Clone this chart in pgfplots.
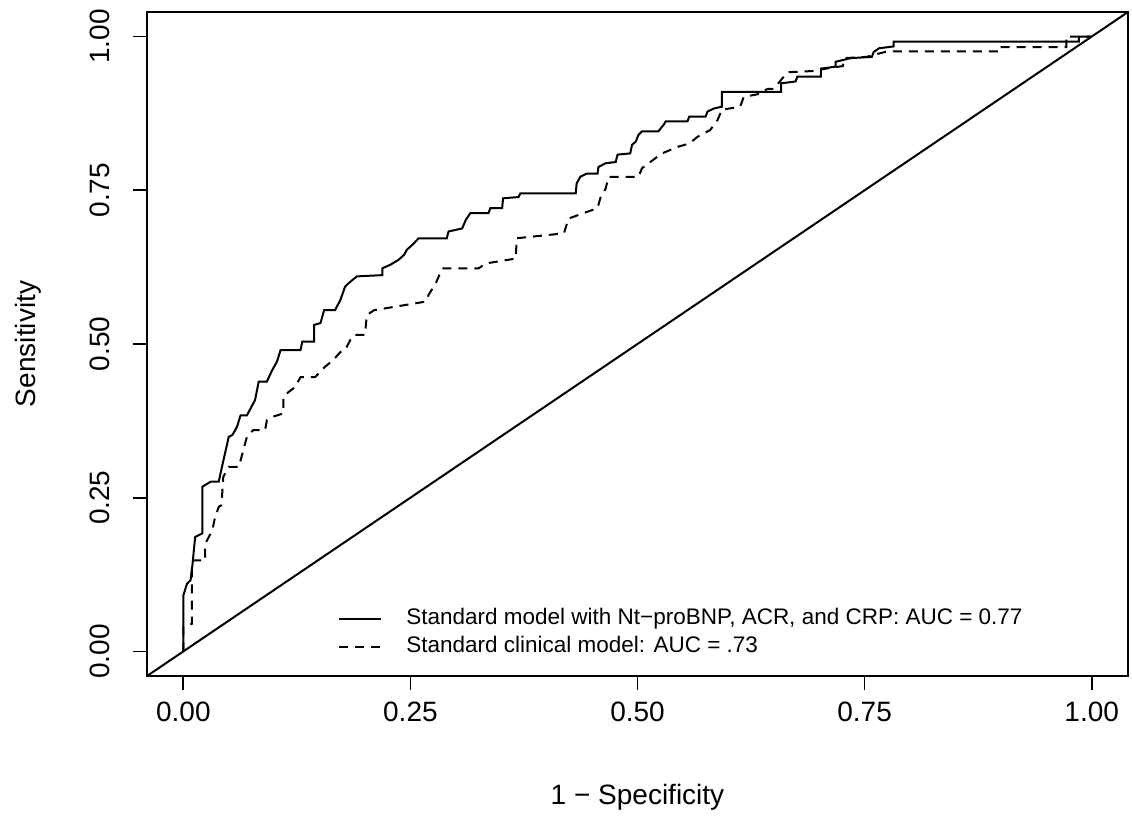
\documentclass[border=0pt]{standalone}
\usepackage{fontspec}
\setmainfont{Liberation Sans}
\usepackage{pgfplots}
\pgfplotsset{compat=1.18}

\begin{document}
\begin{tikzpicture}
\begin{axis}[
    scale only axis,
    width=490.5pt,
    height=332pt,
    xmin=-0.04, xmax=1.04,
    ymin=-0.04, ymax=1.04,
    xtick={0,0.25,0.5,0.75,1},
    ytick={0,0.25,0.5,0.75,1},
    xtick pos=bottom,
    ytick pos=left,
    tick align=outside,
    major tick length=7pt,
    axis line style={line width=0.9pt},
    every tick/.style={black, line width=0.9pt},
    /pgf/number format/.cd, fixed, fixed zerofill, precision=2, assume math mode=true,
    /pgfplots/.cd,
    tick label style={font=\fontsize{14}{16}\selectfont},
    xticklabel style={anchor=center, yshift=-11pt},
    yticklabel style={rotate=90, anchor=center, yshift=16.5pt},
    label style={font=\fontsize{14}{16}\selectfont},
    xlabel={1 − Specificity},
    ylabel={Sensitivity},
    xlabel style={at={(axis description cs:0.5,-0.1822)}, anchor=center},
    ylabel style={at={(axis description cs:-0.1213,0.5)}, anchor=center},
    legend cell align=left,
    legend image code/.code={\draw[#1] (0pt,0pt) -- (21pt,0pt);},
    legend style={draw=none, fill=none, inner sep=0pt,
        font=\fontsize{11.25}{13}\selectfont,
        at={(rel axis cs:0.1947,0.0272)}, anchor=south west,
        row sep=3.5pt, column sep=12pt,
        nodes={inner sep=0pt, text height=8pt, text depth=2.5pt}},
]
\addplot[black, line width=1pt] coordinates {
(0,0) (0,0.091) (0.004,0.110) (0.008,0.116) (0.010,0.140) (0.013,0.186)
(0.021,0.192) (0.021,0.268) (0.030,0.276) (0.039,0.276) (0.041,0.290)
(0.050,0.349) (0.054,0.352) (0.059,0.365) (0.063,0.384) (0.070,0.384)
(0.074,0.395) (0.079,0.409) (0.083,0.439) (0.092,0.439) (0.098,0.458)
(0.103,0.471) (0.107,0.490) (0.129,0.490) (0.131,0.504) (0.144,0.504)
(0.144,0.531) (0.151,0.534) (0.155,0.555) (0.167,0.555) (0.173,0.572)
(0.178,0.593) (0.182,0.599) (0.191,0.610) (0.219,0.612) (0.219,0.623)
(0.228,0.629) (0.237,0.637) (0.243,0.645) (0.246,0.653) (0.254,0.664)
(0.259,0.672) (0.290,0.672) (0.292,0.683) (0.307,0.688) (0.311,0.702)
(0.316,0.713) (0.336,0.713) (0.338,0.721) (0.351,0.721) (0.352,0.737)
(0.369,0.739) (0.371,0.745) (0.432,0.745) (0.433,0.761) (0.437,0.772)
(0.444,0.777) (0.456,0.777) (0.457,0.788) (0.465,0.794) (0.476,0.796)
(0.478,0.808) (0.492,0.810) (0.494,0.824) (0.498,0.829) (0.501,0.840)
(0.505,0.846) (0.523,0.846) (0.529,0.857) (0.531,0.862) (0.555,0.862)
(0.557,0.870) (0.575,0.870) (0.577,0.878) (0.584,0.883) (0.593,0.886)
(0.593,0.910) (0.658,0.910) (0.658,0.924) (0.674,0.927) (0.676,0.935)
(0.702,0.935) (0.702,0.948) (0.718,0.951) (0.718,0.959) (0.735,0.965)
(0.758,0.967) (0.760,0.975) (0.766,0.981) (0.782,0.984) (0.782,0.992)
(0.986,0.992) (0.986,1.000) (1,1)
};
\addlegendentry{Standard model with Nt−proBNP, ACR, and CRP: AUC = 0.77}
\addplot[black, line width=1pt, dash pattern=on 4.5pt off 3.5pt] coordinates {
(0,0) (0,0.040) (0.0095,0.045) (0.0095,0.142) (0.011,0.148) (0.024,0.148)
(0.024,0.175) (0.032,0.197) (0.035,0.219) (0.039,0.235) (0.042,0.238)
(0.044,0.284) (0.050,0.300) (0.061,0.300) (0.064,0.316) (0.070,0.349)
(0.077,0.360) (0.090,0.360) (0.092,0.376) (0.099,0.382) (0.110,0.387)
(0.110,0.414) (0.116,0.422) (0.123,0.430) (0.129,0.446) (0.145,0.446)
(0.156,0.463) (0.165,0.474) (0.173,0.487) (0.178,0.490) (0.184,0.507)
(0.188,0.515) (0.200,0.515) (0.202,0.547) (0.210,0.555) (0.267,0.569)
(0.270,0.580) (0.278,0.599) (0.285,0.623) (0.325,0.623) (0.333,0.631)
(0.366,0.639) (0.367,0.672) (0.419,0.680) (0.424,0.704) (0.456,0.721)
(0.459,0.737) (0.465,0.753) (0.468,0.772) (0.501,0.772) (0.505,0.786)
(0.514,0.796) (0.527,0.810) (0.545,0.821) (0.557,0.826) (0.566,0.837)
(0.580,0.848) (0.588,0.864) (0.593,0.881) (0.613,0.886) (0.617,0.902)
(0.635,0.907) (0.643,0.915) (0.650,0.915) (0.665,0.942) (0.693,0.944)
(0.716,0.950) (0.726,0.952) (0.728,0.965) (0.752,0.967) (0.775,0.976)
(0.898,0.976) (0.898,0.983) (0.972,0.983) (0.972,1.000) (1,1)
};
\addlegendentry{Standard clinical model: AUC = .73}
\addplot[black, line width=1pt, forget plot] coordinates {(-0.04,-0.04) (1.04,1.04)};
\coordinate (bl) at (rel axis cs:0,0);
\coordinate (tr) at (rel axis cs:1,1);
\end{axis}
\pgfresetboundingbox
\path[use as bounding box] ([xshift=-73.5pt,yshift=-71.5pt]bl) rectangle ([xshift=2pt,yshift=6pt]tr);
\end{tikzpicture}
\end{document}
